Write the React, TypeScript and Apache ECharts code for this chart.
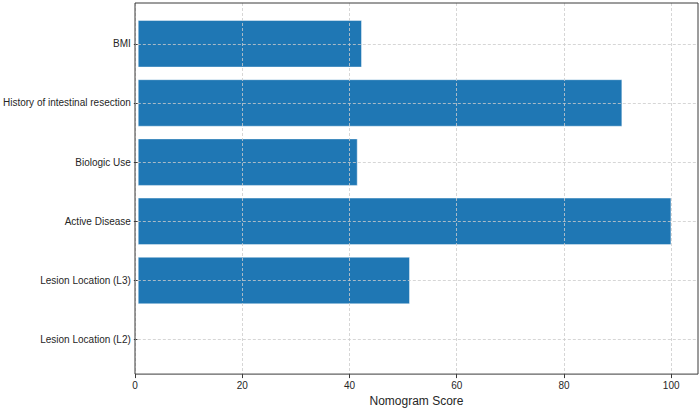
import { useEffect, useRef } from 'react'
import * as echarts from 'echarts'

// bottom to top, as drawn
const categories = [
  'Lesion Location (L2)',
  'Lesion Location (L3)',
  'Active Disease',
  'Biologic Use',
  'History of intestinal resection',
  'BMI',
]
const scores = [0, 51.0, 100, 41.2, 90.8, 42.0]
const xTicks = [0, 20, 40, 60, 80, 100]

const FONT = '"Liberation Sans", Arial, sans-serif'
const GRID_COLOR = '#cccccc'
const DARK = '#3a3a3a'

export default function App() {
  const chartRef = useRef<HTMLDivElement>(null)

  useEffect(() => {
    document.body.style.margin = '0'
    if (!chartRef.current) return
    const chart = echarts.init(chartRef.current, null, { renderer: 'svg' })

    const option = {
      animation: false,
      textStyle: { fontFamily: FONT },
      grid: [
        // frame + x axis
        { left: 135, right: 2, top: 3, bottom: 31.5, show: true, borderColor: DARK, borderWidth: 1, z: 10 },
        // bars
        { left: 135, right: 2, top: 14.2, bottom: 42.7 },
      ],
      xAxis: [
        {
          gridIndex: 0,
          type: 'value',
          min: 0,
          max: 105,
          interval: 20,
          z: 5,
          name: 'Nomogram Score',
          nameLocation: 'middle',
          nameGap: 16,
          nameTextStyle: { fontSize: 12, color: '#262626', fontFamily: FONT },
          axisLine: { show: false },
          axisTick: { show: true, length: 4, customValues: xTicks, lineStyle: { color: DARK } },
          axisLabel: { customValues: xTicks, fontSize: 10, color: '#262626', margin: 6, fontFamily: FONT },
          splitLine: { show: true, lineStyle: { color: GRID_COLOR, type: [3, 2], width: 0.8 } },
        },
        { gridIndex: 1, type: 'value', min: 0, max: 105, show: false },
      ],
      yAxis: [
        { gridIndex: 0, type: 'value', min: 0, max: 1, show: false },
        {
          gridIndex: 1,
          type: 'category',
          data: categories,
          axisLine: { show: false },
          axisTick: { show: true, alignWithLabel: true, length: 4, lineStyle: { color: DARK } },
          axisLabel: { fontSize: 10, color: '#262626', margin: 7, fontFamily: FONT },
          splitLine: { show: false },
        },
      ],
      series: [
        {
          type: 'bar',
          xAxisIndex: 1,
          yAxisIndex: 1,
          data: scores,
          barWidth: '80%',
          itemStyle: { color: '#1f77b4', borderColor: 'rgba(255,255,255,0.55)', borderWidth: 0.8 },
          markLine: {
            silent: true,
            symbol: 'none',
            label: { show: false },
            lineStyle: { color: GRID_COLOR, type: [3, 2], width: 0.8 },
            data: categories.map((c) => ({ yAxis: c })),
          },
        },
      ],
    }

    chart.setOption(option)
    return () => chart.dispose()
  }, [])

  return <div ref={chartRef} style={{ width: 700, height: 412 }} />
}
